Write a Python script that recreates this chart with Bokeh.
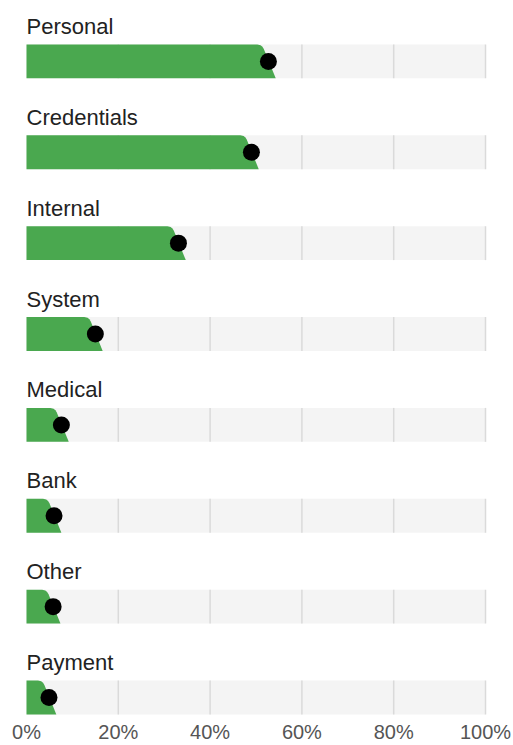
from bokeh.plotting import figure
from bokeh.models import Range1d, FixedTicker, PrintfTickFormatter
from bokeh.core.properties import value
from bokeh.embed import file_html
from bokeh.resources import INLINE

categories = ["Personal", "Credentials", "Internal", "System", "Medical", "Bank", "Other", "Payment"]
shares = [52.7, 49.0, 33.1, 15.0, 7.6, 6.0, 5.8, 4.9]
tick_values = [0, 20, 40, 60, 80, 100]
grid_values = [20, 40, 60, 80, 100]

rows = list(range(len(categories)))
half_h = 17 / 91.0

p = figure(width=513, height=745, output_backend="svg", toolbar_location=None,
           x_range=Range1d(-26 / 4.59, (513 - 26) / 4.59),
           y_range=Range1d(7.253, -0.670),
           min_border_left=0, min_border_right=0, min_border_top=0, min_border_bottom=0,
           y_axis_location=None)
p.outline_line_color = None
p.grid.visible = False
p.background_fill_color = "white"

# tracks
p.hbar(y=rows, left=0, right=100, height=2 * half_h, fill_color="#f4f4f4", line_color=None)

# grid segments inside tracks
gx, gy0, gy1 = [], [], []
for r in rows:
    for g in grid_values:
        gx.append(g); gy0.append(r - half_h); gy1.append(r + half_h)
p.segment(x0=gx, y0=gy0, x1=gx, y1=gy1, line_color="#dadada", line_width=1.5)

# green bars with slanted rounded end
xs, ys = [], []
for r, v in zip(rows, shares):
    top, bot = r - half_h, r + half_h
    xs.append([0, v - 2.4, v - 1.7, v - 1.3, v - 1.0, v + 1.6, 0])
    ys.append([top, top, top + 0.008, top + 0.025, top + 0.05, bot, bot])
p.patches(xs=xs, ys=ys, fill_color="#4aa84f", line_color=None)

# dots
p.scatter(x=shares, y=rows, size=17, fill_color="black", line_color=None)

# category labels
p.text(x=[0] * len(rows), y=[r - 0.385 for r in rows], text=categories,
       text_font=value("Liberation Sans"), text_font_size="22px", text_color="#222222",
       text_baseline="alphabetic", text_align="left")

ax = p.xaxis[0]
ax.ticker = FixedTicker(ticks=tick_values)
ax.formatter = PrintfTickFormatter(format="%d%%")
ax.axis_line_color = None
ax.major_tick_line_color = None
ax.minor_tick_line_color = None
ax.major_tick_out = 0
ax.major_tick_in = 0
ax.major_label_standoff = 0
ax.major_label_text_font = "Liberation Sans"
ax.major_label_text_font_size = "20px"
ax.major_label_text_color = "#555555"

open("out.html", "w").write(file_html(p, INLINE))
